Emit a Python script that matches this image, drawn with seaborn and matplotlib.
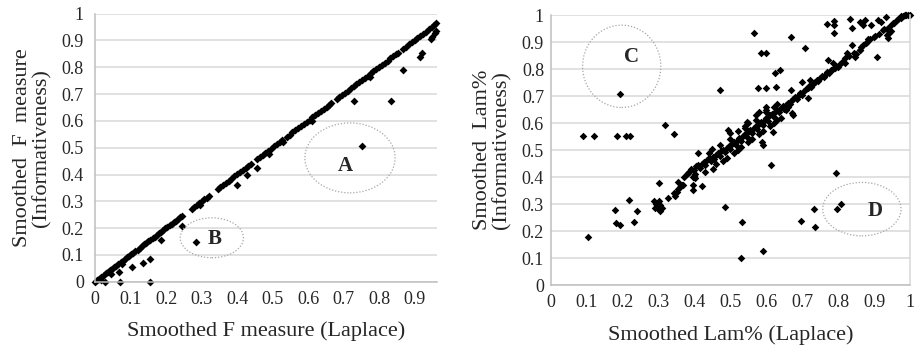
import numpy as np
import pandas as pd
import matplotlib
matplotlib.use("Agg")
import matplotlib.pyplot as plt
from matplotlib.patches import Ellipse
import seaborn as sns

# ---------------- data: left panel (F measure) ----------------
f_line_x = [0.000, 0.006, 0.012, 0.018, 0.024, 0.030, 0.036, 0.042, 0.048, 0.054,
            0.060, 0.066, 0.072, 0.078, 0.084, 0.090, 0.096, 0.102, 0.108, 0.114,
            0.120, 0.126, 0.132, 0.138, 0.144, 0.150, 0.156, 0.162, 0.168, 0.174,
            0.180, 0.186, 0.192, 0.198, 0.204, 0.210, 0.216, 0.222, 0.228, 0.234,
            0.240, 0.245,
            0.272, 0.279, 0.286, 0.293, 0.300, 0.307, 0.314, 0.320,
            0.345, 0.352, 0.360, 0.368, 0.376, 0.384, 0.392, 0.400, 0.408, 0.416,
            0.424, 0.432, 0.440, 0.456, 0.464, 0.472, 0.480, 0.488, 0.496, 0.504,
            0.512, 0.520, 0.526, 0.540, 0.548, 0.556, 0.564, 0.572, 0.580, 0.588,
            0.596, 0.604, 0.612, 0.620, 0.628, 0.636, 0.644, 0.652, 0.660, 0.664,
            0.680, 0.688, 0.696, 0.704, 0.712, 0.720, 0.728, 0.736, 0.744, 0.752,
            0.760, 0.768, 0.776, 0.784, 0.792, 0.800, 0.808, 0.816, 0.824, 0.832,
            0.840, 0.848, 0.852, 0.868, 0.876, 0.884, 0.892, 0.900, 0.908, 0.916,
            0.924, 0.932, 0.940, 0.948, 0.954, 0.960]
f_line_y = [0.000, 0.005, 0.012, 0.019, 0.024, 0.031, 0.036, 0.043, 0.048, 0.055,
            0.060, 0.067, 0.072, 0.079, 0.084, 0.091, 0.096, 0.103, 0.108, 0.115,
            0.120, 0.127, 0.132, 0.139, 0.144, 0.151, 0.156, 0.163, 0.168, 0.175,
            0.180, 0.187, 0.192, 0.199, 0.204, 0.211, 0.216, 0.223, 0.228, 0.235,
            0.240, 0.246,
            0.270, 0.279, 0.285, 0.294, 0.300, 0.308, 0.313, 0.321,
            0.347, 0.353, 0.361, 0.369, 0.377, 0.385, 0.393, 0.401, 0.409, 0.417,
            0.425, 0.433, 0.441, 0.457, 0.465, 0.473, 0.481, 0.489, 0.497, 0.505,
            0.513, 0.521, 0.527, 0.541, 0.549, 0.557, 0.565, 0.573, 0.581, 0.589,
            0.597, 0.605, 0.613, 0.621, 0.629, 0.637, 0.645, 0.653, 0.661, 0.665,
            0.681, 0.689, 0.697, 0.705, 0.713, 0.721, 0.729, 0.737, 0.745, 0.753,
            0.761, 0.769, 0.777, 0.785, 0.793, 0.801, 0.809, 0.817, 0.825, 0.833,
            0.841, 0.849, 0.853, 0.869, 0.877, 0.885, 0.893, 0.901, 0.909, 0.917,
            0.925, 0.933, 0.941, 0.949, 0.958, 0.966]
f_off_x = [0.028, 0.070, 0.155, 0.068, 0.103, 0.134, 0.155, 0.075, 0.185, 0.244,
           0.285, 0.296, 0.400, 0.427, 0.455, 0.490, 0.728, 0.751, 0.833, 0.868,
           0.915, 0.922, 0.946, 0.950, 0.956, 0.960, 0.018, 0.045, 0.610, 0.775,
           0.530]
f_off_y = [0.000, 0.000, 0.000, 0.037, 0.056, 0.071, 0.083, 0.065, 0.155, 0.209,
           0.147, 0.286, 0.360, 0.398, 0.424, 0.476, 0.676, 0.505, 0.676, 0.790,
           0.840, 0.852, 0.905, 0.912, 0.928, 0.935, 0.005, 0.030, 0.598, 0.765,
           0.520]

# ---------------- data: right panel (Lam%) ----------------
lam_x = [
    # left-hand outliers
    0.088, 0.121, 0.184, 0.209, 0.220, 0.193, 0.318, 0.343, 0.102, 0.178,
    0.181, 0.192, 0.216, 0.232, 0.240, 0.302, 0.325, 0.486, 0.531, 0.529,
    0.590, 0.696, 0.733, 0.735, 0.797, 0.808, 0.472, 0.565, 0.585, 0.599,
    0.669, 0.577, 0.600, 0.628, 0.624, 0.638, 0.708, 0.669, 0.612, 0.794,
    # upper right
    0.768, 0.788, 0.788, 0.788, 0.833, 0.838, 0.862, 0.870, 0.875, 0.891,
    0.910, 0.933, 0.907, 0.952, 0.942, 0.938, 0.920, 0.928, 0.947, 0.967,
    0.975, 0.985,
    # low cluster
    0.288, 0.292, 0.296, 0.300, 0.305, 0.290, 0.310, 0.300, 0.303, 0.343,
    0.345, 0.350, 0.355, 0.360, 0.365, 0.353, 0.368, 0.395, 0.397, 0.420,
    0.395, 0.400, 0.398, 0.402, 0.383,
    # main band
    0.370, 0.378, 0.385, 0.390, 0.398, 0.405, 0.410, 0.415, 0.420, 0.425,
    0.430, 0.435, 0.440, 0.445, 0.450, 0.455, 0.460, 0.465, 0.470, 0.475,
    0.480, 0.485, 0.490, 0.495, 0.500, 0.505, 0.510, 0.515, 0.520, 0.525,
    0.530, 0.535, 0.540, 0.545, 0.550, 0.555, 0.560, 0.565, 0.570, 0.575,
    0.580, 0.585, 0.590, 0.595, 0.600, 0.605, 0.610, 0.615, 0.620, 0.625,
    0.630, 0.635, 0.640, 0.645, 0.650, 0.655, 0.660, 0.665, 0.670, 0.675,
    0.680, 0.685, 0.690, 0.695, 0.700, 0.705, 0.710, 0.715, 0.720, 0.725,
    0.730, 0.735, 0.740, 0.745, 0.750, 0.755, 0.760, 0.765, 0.770, 0.775,
    0.780, 0.785, 0.790, 0.795, 0.800, 0.805, 0.810,
    # scatter around the band
    0.460, 0.470, 0.490, 0.500, 0.510, 0.520, 0.530, 0.540, 0.550, 0.550,
    0.560, 0.570, 0.580, 0.580, 0.590, 0.600, 0.610, 0.620, 0.620, 0.630,
    0.640, 0.600, 0.570, 0.540, 0.520, 0.480, 0.450, 0.430, 0.440, 0.410,
    0.587, 0.591, 0.619, 0.448, 0.494, 0.499, 0.545, 0.675, 0.672, 0.717,
    0.698, 0.721, 0.656, 0.660, 0.600, 0.630,
    # upper band
    0.772, 0.786, 0.819, 0.824, 0.838, 0.847, 0.851, 0.861, 0.865, 0.877,
    0.884, 0.903, 0.935, 0.820, 0.830, 0.845, 0.860, 0.870, 0.880, 0.890,
    0.900, 0.915, 0.925, 0.935, 0.945, 0.955, 0.965, 0.975, 0.985, 0.990,
    0.995, 1.000, 0.980]
lam_y = [
    0.552, 0.552, 0.552, 0.552, 0.552, 0.706, 0.593, 0.558, 0.177, 0.278,
    0.231, 0.222, 0.315, 0.232, 0.275, 0.377, 0.323, 0.288, 0.235, 0.101,
    0.126, 0.237, 0.280, 0.214, 0.280, 0.299, 0.722, 0.932, 0.858, 0.858,
    0.920, 0.728, 0.728, 0.732, 0.785, 0.797, 0.879, 0.722, 0.444, 0.416,
    0.967, 0.978, 0.962, 0.932, 0.985, 0.953, 0.975, 0.963, 0.980, 0.963,
    0.980, 0.994, 0.843, 0.969, 0.932, 0.914, 0.975, 0.950, 0.940, 0.985,
    0.995, 1.000,
    0.310, 0.300, 0.292, 0.282, 0.298, 0.286, 0.285, 0.310, 0.275, 0.340,
    0.330, 0.345, 0.355, 0.362, 0.372, 0.383, 0.370, 0.370, 0.352, 0.368,
    0.400, 0.398, 0.405, 0.410, 0.414,
    0.400, 0.410, 0.420, 0.430, 0.425, 0.440, 0.445, 0.435, 0.450, 0.455,
    0.445, 0.462, 0.470, 0.458, 0.475, 0.468, 0.482, 0.490, 0.478, 0.495,
    0.500, 0.492, 0.508, 0.515, 0.505, 0.522, 0.530, 0.518, 0.538, 0.545,
    0.532, 0.552, 0.560, 0.548, 0.568, 0.575, 0.562, 0.582, 0.590, 0.578,
    0.598, 0.605, 0.592, 0.612, 0.620, 0.608, 0.628, 0.635, 0.622, 0.642,
    0.650, 0.640, 0.655, 0.662, 0.652, 0.668, 0.675, 0.670, 0.682, 0.688,
    0.695, 0.690, 0.702, 0.710, 0.705, 0.718, 0.725, 0.730, 0.738, 0.735,
    0.745, 0.752, 0.760, 0.755, 0.768, 0.775, 0.772, 0.782, 0.790, 0.785,
    0.795, 0.800, 0.805, 0.812, 0.808, 0.818, 0.825,
    0.450, 0.520, 0.470, 0.540, 0.490, 0.570, 0.510, 0.590, 0.530, 0.600,
    0.540, 0.630, 0.560, 0.640, 0.570, 0.650, 0.590, 0.660, 0.600, 0.610,
    0.620, 0.640, 0.610, 0.580, 0.500, 0.460, 0.430, 0.420, 0.490, 0.490,
    0.531, 0.519, 0.568, 0.504, 0.574, 0.562, 0.605, 0.630, 0.636, 0.691,
    0.753, 0.759, 0.649, 0.660, 0.660, 0.670,
    0.833, 0.821, 0.821, 0.858, 0.889, 0.846, 0.855, 0.870, 0.883, 0.897,
    0.910, 0.922, 0.926, 0.840, 0.850, 0.860, 0.870, 0.890, 0.900, 0.910,
    0.920, 0.930, 0.945, 0.950, 0.960, 0.970, 0.980, 0.990, 1.000, 1.000,
    1.000, 1.000, 0.995]

f_ticks_x = [0, 0.1, 0.2, 0.3, 0.4, 0.5, 0.6, 0.7, 0.8, 0.9]
lam_ticks_x = [0, 0.1, 0.2, 0.3, 0.4, 0.5, 0.6, 0.7, 0.8, 0.9, 1]
y_ticks = [0, 0.1, 0.2, 0.3, 0.4, 0.5, 0.6, 0.7, 0.8, 0.9, 1]

left_df = pd.DataFrame({"x": f_line_x + f_off_x, "y": f_line_y + f_off_y})
right_df = pd.DataFrame({"x": lam_x, "y": lam_y})

sns.set_style("white")
plt.rcParams["font.family"] = ["Liberation Serif", "DejaVu Serif"]

fig = plt.figure(figsize=(9.16, 3.5), dpi=100)
ax1 = fig.add_axes([0.1037, 0.195, 0.3734, 0.766])
ax2 = fig.add_axes([0.6015, 0.1857, 0.3919, 0.7714])

GRID = "#d9d9d9"
AXIS = "#bfbfbf"


def fmt(v):
    return "0" if v == 0 else ("1" if v == 1 else f"{v:g}")


def style(ax, xmax, xticks, right_border, ypad):
    ax.set_xlim(0, xmax)
    ax.set_ylim(0, 1)
    ax.set_xticks(xticks)
    ax.set_xticklabels([fmt(v) for v in xticks], fontsize=13)
    ax.set_yticks(y_ticks)
    ax.set_yticklabels([fmt(v) for v in y_ticks], fontsize=13)
    ax.yaxis.grid(True, color=GRID, linewidth=1.1)
    ax.xaxis.grid(False)
    ax.set_axisbelow(True)
    for side in ["top", "right"]:
        ax.spines[side].set_visible(False)
    ax.spines["bottom"].set_color(AXIS)
    ax.spines["left"].set_color(AXIS)
    ax.spines["bottom"].set_linewidth(1.1)
    ax.spines["left"].set_linewidth(1.1)
    if right_border:
        ax.spines["right"].set_visible(True)
        ax.spines["right"].set_color(GRID)
        ax.spines["right"].set_linewidth(1.1)
    ax.tick_params(axis="x", direction="inout", length=7, color=AXIS, pad=3)
    ax.tick_params(axis="y", direction="out", length=3, color=AXIS, pad=ypad)


sns.scatterplot(data=left_df, x="x", y="y", ax=ax1, marker="D", s=16,
                color="black", linewidth=0, legend=False, clip_on=False)
sns.scatterplot(data=right_df, x="x", y="y", ax=ax2, marker="D", s=15,
                color="black", linewidth=0, legend=False, clip_on=False)

style(ax1, 0.963, f_ticks_x, False, 5)
style(ax2, 1.0, lam_ticks_x, True, 2)

ax1.set_xlabel("Smoothed F measure (Laplace)", fontsize=16, labelpad=10)
ax1.set_ylabel("Smoothed  F  measure\n(Informativeness)", fontsize=16,
               labelpad=7, linespacing=1.05)
ax2.set_xlabel("Smoothed Lam% (Laplace)", fontsize=16, labelpad=10)
ax2.set_ylabel("Smoothed  Lam%\n(Informativeness)", fontsize=16,
               labelpad=7, linespacing=1.05)

# highlighted regions
ell = dict(fill=False, edgecolor="#a6a6a6", linestyle=(0, (1, 1.5)), linewidth=0.9)
ax1.add_patch(Ellipse((0.718, 0.462), 0.254, 0.261, **ell))
ax1.add_patch(Ellipse((0.329, 0.164), 0.178, 0.149, **ell))
ax2.add_patch(Ellipse((0.197, 0.810), 0.218, 0.305, **ell))
ax2.add_patch(Ellipse((0.866, 0.281), 0.218, 0.198, **ell))

lab = dict(fontsize=15, fontweight="bold", ha="center", va="center")
ax1.text(0.704, 0.432, "A", **lab)
ax1.text(0.338, 0.158, "B", **lab)
ax2.text(0.223, 0.846, "C", **lab)
ax2.text(0.902, 0.274, "D", **lab)

fig.savefig("out.png", dpi=100)
